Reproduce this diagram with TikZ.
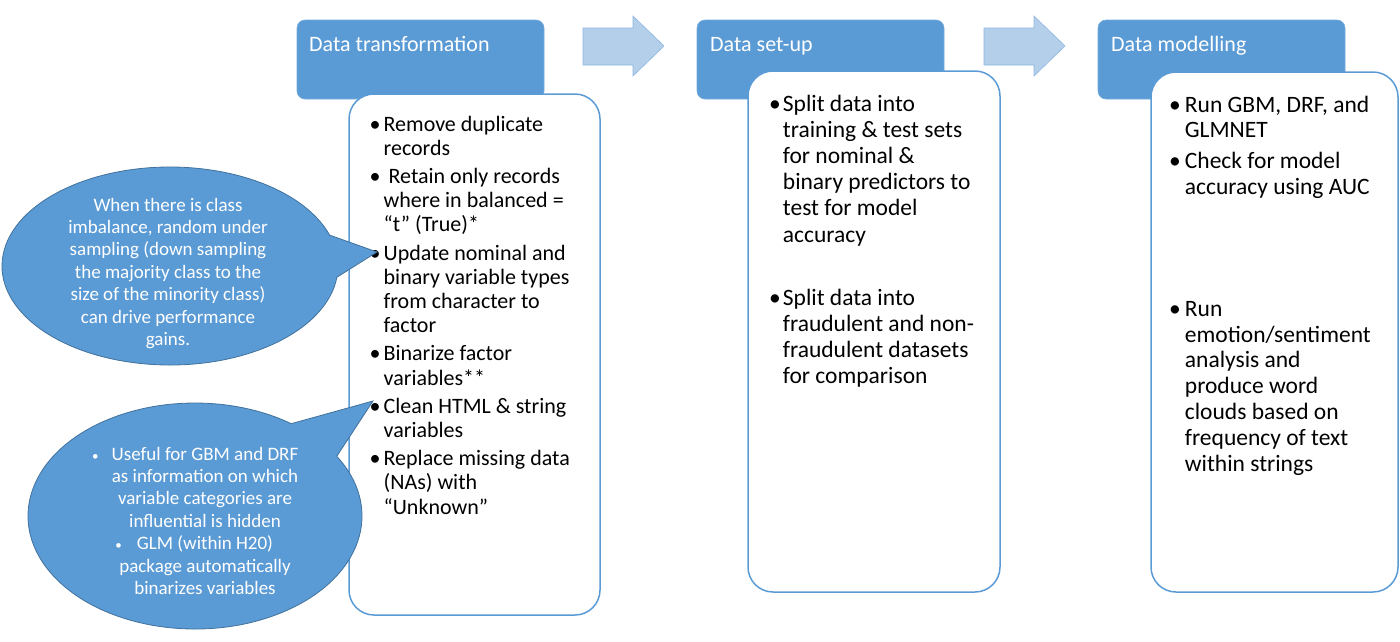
\documentclass[tikz,border=0pt]{standalone}
\usepackage{fontspec}
\setmainfont{Carlito}
\usetikzlibrary{calc}
\definecolor{hblue}{HTML}{5B9BD5}
\definecolor{cborder}{HTML}{41719C}
\definecolor{ablue}{HTML}{B3CFEA}
\definecolor{aborder}{HTML}{8FB6DF}
\begin{document}
\begin{tikzpicture}[x=1pt,y=-1pt,
  header/.style={fill=hblue, draw=hblue!85!white, line width=0.6pt, rounded corners=8pt, minimum width=247pt, minimum height=79pt, inner sep=0pt, outer sep=0pt, anchor=north west},
  htext/.style={text=white, font=\fontsize{22}{26}\selectfont, anchor=base west, inner sep=0pt},
  panel/.style={fill=white, draw=hblue, line width=1.5pt, rounded corners=25pt, inner sep=0pt, outer sep=0pt, anchor=north west},
  ptext/.style={anchor=base west, inner sep=0pt, text=black},
  callout/.style={fill=hblue, draw=cborder, line width=0.8pt},
  ctext/.style={text=white, anchor=base, inner sep=0pt, font=\fontsize{19}{22.4}\selectfont},
  blockarrow/.style={fill=ablue, draw=aborder, line width=0.6pt}]
\useasboundingbox (0,0) rectangle (1400,641);

% headers
\node[header] (h1) at (297,20) {};
\node[header] (h2) at (697,20) {};
\node[header] (h3) at (1098,20) {};
\node[htext] (h1t) at (309,51) {Data transformation};
\node[htext] (h2t) at (710,51) {Data set-up};
\node[htext] (h3t) at (1111,51) {Data modelling};

% block arrows
\draw[blockarrow] (583,28) -- (633,28) -- (633,16) -- (664,46) -- (633,76) -- (633,65) -- (583,65) -- cycle;
\draw[blockarrow] (984,28) -- (1034,28) -- (1034,16) -- (1065,46) -- (1034,76) -- (1034,65) -- (984,65) -- cycle;

% panels
\node[panel, minimum width=251pt, minimum height=521pt] (p1) at (349,94) {};
\node[panel, minimum width=252pt, minimum height=521pt] (p2) at (748,71) {};
\node[panel, minimum width=247pt, minimum height=520pt] (p3) at (1151,72) {};

\node[ptext, font=\fontsize{22}{24.2}\selectfont] (p1t) at (369.5,131) {\begin{tabular}[t]{@{}l@{\hspace{3pt}}l@{}}
•& Remove duplicate\\
 & records\\[4pt]
•& \hspace{5pt}Retain only records\\
 & where in balanced =\\
 & “t” (True)*\\[4pt]
•& Update nominal and\\
 & binary variable types\\
 & from character to\\
 & factor\\[4pt]
•& Binarize factor\\
 & variables**\\[4pt]
•& Clean HTML \& string\\
 & variables\\[4pt]
•& Replace missing data\\
 & (NAs) with\\
 & “Unknown”
\end{tabular}};

\node[ptext, font=\fontsize{23.5}{26.2}\selectfont] (p2t) at (769,111) {\begin{tabular}[t]{@{}l@{\hspace{2pt}}l@{}}
•& Split data into\\
 & training \& test sets\\
 & for nominal \&\\
 & binary predictors to\\
 & test for model\\
 & accuracy\\[36.8pt]
•& Split data into\\
 & fraudulent and non-\\
 & fraudulent datasets\\
 & for comparison
\end{tabular}};

\node[ptext, font=\fontsize{23.5}{25.8}\selectfont] (p3t) at (1169,112) {\begin{tabular}[t]{@{}l@{\hspace{4pt}}l@{}}
•& Run GBM, DRF, and\\
 & GLMNET\\[5pt]
•& Check for model\\
 & accuracy using AUC\\[96pt]
•& Run\\
 & emotion/sentiment\\
 & analysis and\\
 & produce word\\
 & clouds based on\\
 & frequency of text\\
 & within strings
\end{tabular}};

% callouts
\coordinate (tip1) at (377,252);
\coordinate (tip2) at (373,401);
\path[callout] ($(170,266)+(6.5:168 and 99)$) arc[start angle=6.5, end angle=341.8, x radius=168, y radius=99] -- (tip1) -- cycle;
\path[callout] ($(195,516)+(-31.9:167 and 113)$) arc[start angle=-31.9, end angle=305.2, x radius=167, y radius=113] -- (tip2) -- cycle;

\node[ctext] (c1t) at (168,211) {\begin{tabular}[t]{@{}c@{}}
When there is class\\
imbalance, random under\\
sampling (down sampling\\
the majority class to the\\
size of the minority class)\\
can drive performance\\
gains.
\end{tabular}};

\node[ctext] (c2t) at (205,460) {\begin{tabular}[t]{@{}c@{}}
\llap{{\fontsize{13}{13}\selectfont •}\hspace{13pt}}Useful for GBM and DRF\\
as information on which\\
variable categories are\\
influential is hidden\\
\llap{{\fontsize{13}{13}\selectfont •}\hspace{15pt}}GLM (within H20)\\
package automatically\\
binarizes variables
\end{tabular}};
\end{tikzpicture}
\end{document}
